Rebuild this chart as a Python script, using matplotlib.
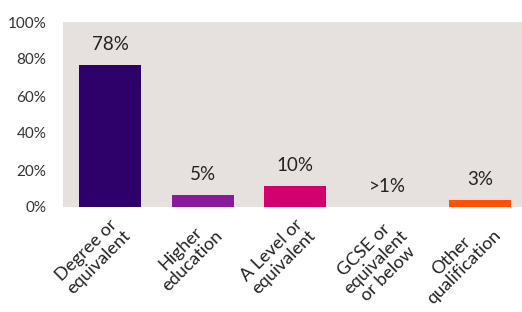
import matplotlib
matplotlib.use("Agg")
import matplotlib.pyplot as plt
import matplotlib.transforms as mtransforms

categories = ["Degree or\nequivalent", "Higher\neducation", "A Level or\nequivalent",
              "GCSE or\nequivalent\nor below", "Other\nqualification"]
values = [76.8, 6.5, 11.4, 0.0, 3.8]
value_labels = ["78%", "5%", "10%", ">1%", "3%"]
colors = ["#2E006A", "#8A1A9B", "#D3006F", "#E6E1DE", "#FF5100"]
yticks = [0, 20, 40, 60, 80, 100]
ytick_labels = ["0%", "20%", "40%", "60%", "80%", "100%"]

plt.rcParams['font.family'] = ['Lato', 'DejaVu Sans']

fig = plt.figure(figsize=(5.22, 3.12), dpi=100)
ax = fig.add_axes([63/522, 1-207/312, 1-63/522, 185/312])
ax.set_facecolor("#E6E1DE")
x = list(range(len(categories)))
ax.bar(x, values, width=0.67, color=colors)
for xi, v, lab in zip(x, values, value_labels):
    ax.annotate(lab, (xi, v), xytext=(0, 20), textcoords="offset pixels",
                ha="center", va="center", fontsize=13.5, color="#222222")
ax.set_ylim(0, 100)
ax.set_xlim(-0.51, 4.45)
ax.set_yticks(yticks)
ax.set_yticklabels(ytick_labels, fontsize=11, color="#333333")
ax.set_xticks(x)
ax.set_xticklabels(categories, fontsize=13, color="#222222", rotation=45,
                   ha="right", va="top", rotation_mode="anchor", multialignment="center",
                   linespacing=1.05)
offset = mtransforms.ScaledTranslation(20/100, 6/100, fig.dpi_scale_trans)
for lbl in ax.get_xticklabels():
    lbl.set_transform(lbl.get_transform() + offset)
ax.tick_params(axis="both", length=0)
ax.tick_params(axis="y", pad=12)
ax.tick_params(axis="x", pad=6)
for s in ax.spines.values():
    s.set_visible(False)
fig.savefig("out.png", dpi=100)
